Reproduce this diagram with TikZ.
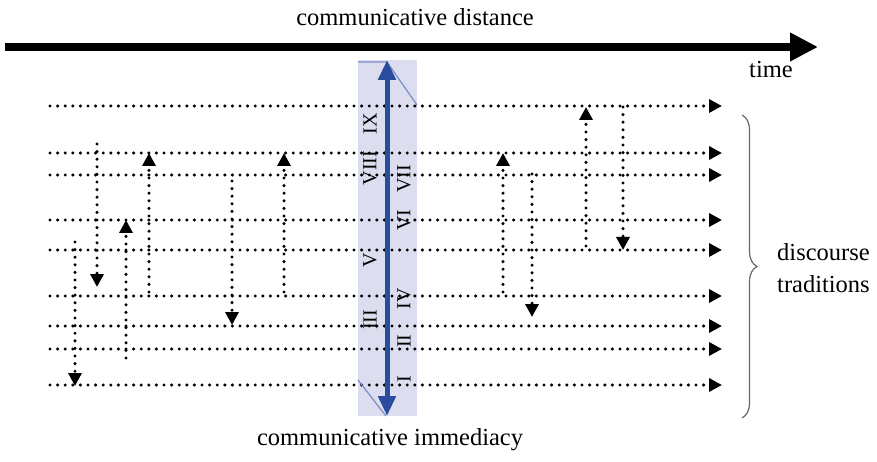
\documentclass[tikz,border=0pt]{standalone}
\usepackage{fontspec}
\setmainfont{Liberation Serif}
\usetikzlibrary{arrows.meta,decorations.pathreplacing}
\definecolor{band}{HTML}{DCDEEF}
\definecolor{darrow}{HTML}{2A4C9E}
\definecolor{thinblue}{HTML}{7D8CC6}
\begin{document}
\begin{tikzpicture}[x=1pt,y=-1pt,
 dots/.style={line width=3.4pt, line cap=round, dash pattern=on 0pt off 7.6pt},
 dtip/.style={-{Triangle[length=13pt,width=13pt]}},
 lbl/.style={font=\fontsize{24.5}{32}\selectfont, inner sep=0pt},
 num/.style={font=\fontsize{20}{22}\selectfont, rotate=90, inner sep=0pt}]
\useasboundingbox (0,0) rectangle (877,462);
% band
\fill[band] (358,60) rectangle (417,416);
% horizontal traditions
\foreach \y [count=\i] in {106,153,175,220,250,296,326,349,385}{
  \coordinate (s\i) at (50,\y);
  \coordinate (e\i) at (722,\y);
  \draw[dots,dtip] (s\i) -- (e\i);
}
% vertical transitions
\foreach \x/\a/\b in {97/144/287, 149/292/153, 126/358/220, 75/242/386, 232/181/325,
                      284/292/153, 503/292/153, 532/174/317, 586/246/107, 623/107/250}{
  \draw[dots,dtip] (\x,\a) -- (\x,\b);
}
% thin blue lines
\draw[thinblue, line width=1.2pt] (358,62) -- (387,62) -- (417,105);
\draw[thinblue, line width=1.2pt] (358,380) -- (386,416);
% blue double arrow
\coordinate (bt) at (387,60);
\coordinate (bb) at (387,416);
\draw[darrow, line width=5pt, {Triangle[length=20pt,width=17pt]}-{Triangle[length=20pt,width=17pt]}] (bt) -- (bb);
% numerals
\node[num] (n9) at (370,124) {IX};
\node[num] (n8) at (370,168) {VIII};
\node[num] (n5) at (370,260) {V};
\node[num] (n3) at (370,320) {III};
\node[num] (n7) at (404,179) {VII};
\node[num] (n6) at (404,220) {VI};
\node[num] (n4) at (404,299) {IV};
\node[num] (n2) at (404,341) {II};
\node[num] (n1) at (404,379) {I};
% time arrow
\coordinate (ta) at (5,47);
\coordinate (tb) at (818,47);
\draw[line width=8pt, -{Triangle[length=28pt,width=27pt]}] (ta) -- (tb);
% labels
\node[lbl] (dist) at (415,17) {communicative distance};
\node[lbl] (imm) at (390,440) {communicative immediacy};
\node[lbl] (time) at (771,70) {time};
\node[lbl, anchor=west, align=left] (dt) at (777,268) {discourse\\traditions};
% brace
\draw[black!60, line width=1.2pt, decorate, decoration={brace, amplitude=15pt}] (742,115) -- (742,418);
\end{tikzpicture}
\end{document}
